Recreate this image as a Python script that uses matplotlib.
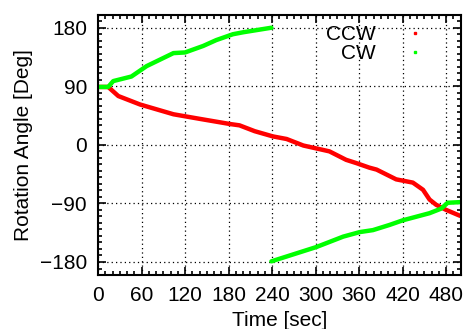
import matplotlib.pyplot as plt
from matplotlib.lines import Line2D
from matplotlib.ticker import MultipleLocator

plt.rcParams['font.family'] = ['Liberation Sans', 'DejaVu Sans']

# CCW run (red)
ccw_t = [0, 14, 28, 58, 104, 140, 182, 195, 216, 241, 260, 283, 319, 342,
         356, 374, 384, 411, 434, 448, 457, 466, 480, 499]
ccw_deg = [89, 89, 75, 62, 47, 40, 32, 30, 21, 13, 9, -1, -10, -23,
           -28, -35, -38, -53, -58, -69, -84, -92, -100, -109]

# CW run (green), wraps at 180
cw_t1 = [0, 14, 21, 46, 67, 104, 120, 145, 163, 186, 200, 239]
cw_deg1 = [89, 89, 98, 105, 121, 141, 142, 152, 161, 170, 173, 180]
cw_t2 = [239, 301, 338, 361, 379, 402, 420, 457, 473, 482, 499]
cw_deg2 = [-179, -157, -141, -134, -131, -123, -116, -105, -98, -89, -88]

RED = '#ff0000'
GREEN = '#00ff00'
FS = 15

fig = plt.figure(figsize=(4.65, 3.29), dpi=100)
ax = fig.add_axes([0.2108, 0.1641, 0.78, 0.7912])

ax.plot(ccw_t, ccw_deg, color=RED, lw=3.2, solid_capstyle='round')
ax.plot(cw_t1, cw_deg1, color=GREEN, lw=3.2, solid_capstyle='round')
ax.plot(cw_t2, cw_deg2, color=GREEN, lw=3.2, solid_capstyle='round')

ax.set_xlim(0, 500)
ax.set_ylim(-200, 200)
ax.xaxis.set_major_locator(MultipleLocator(60))
ax.xaxis.set_minor_locator(MultipleLocator(10))
ax.yaxis.set_major_locator(MultipleLocator(90))
ax.yaxis.set_minor_locator(MultipleLocator(10))

ax.tick_params(which='both', direction='in', top=True, right=True,
               labelsize=FS, width=1.2)
ax.tick_params(which='major', length=6, pad=8)
ax.tick_params(which='minor', length=3)
for s in ax.spines.values():
    s.set_linewidth(1.5)

ax.grid(True, which='major', color='black', linestyle=(0, (1, 2.5)), lw=0.9)

ax.set_xlabel('Time [sec]', fontsize=FS, labelpad=4)
ax.set_ylabel('Rotation Angle [Deg]', fontsize=FS, labelpad=5)

handles = [Line2D([], [], color=RED, marker='s', markersize=2, lw=0),
           Line2D([], [], color=GREEN, marker='s', markersize=2, lw=0)]
ax.legend(handles, ['CCW', 'CW'], loc='upper right', frameon=False,
          markerfirst=False, fontsize=FS, handletextpad=0.9,
          labelspacing=0.0, borderaxespad=0.1, bbox_to_anchor=(0.96, 1.0))

fig.savefig('out.png', dpi=100)
